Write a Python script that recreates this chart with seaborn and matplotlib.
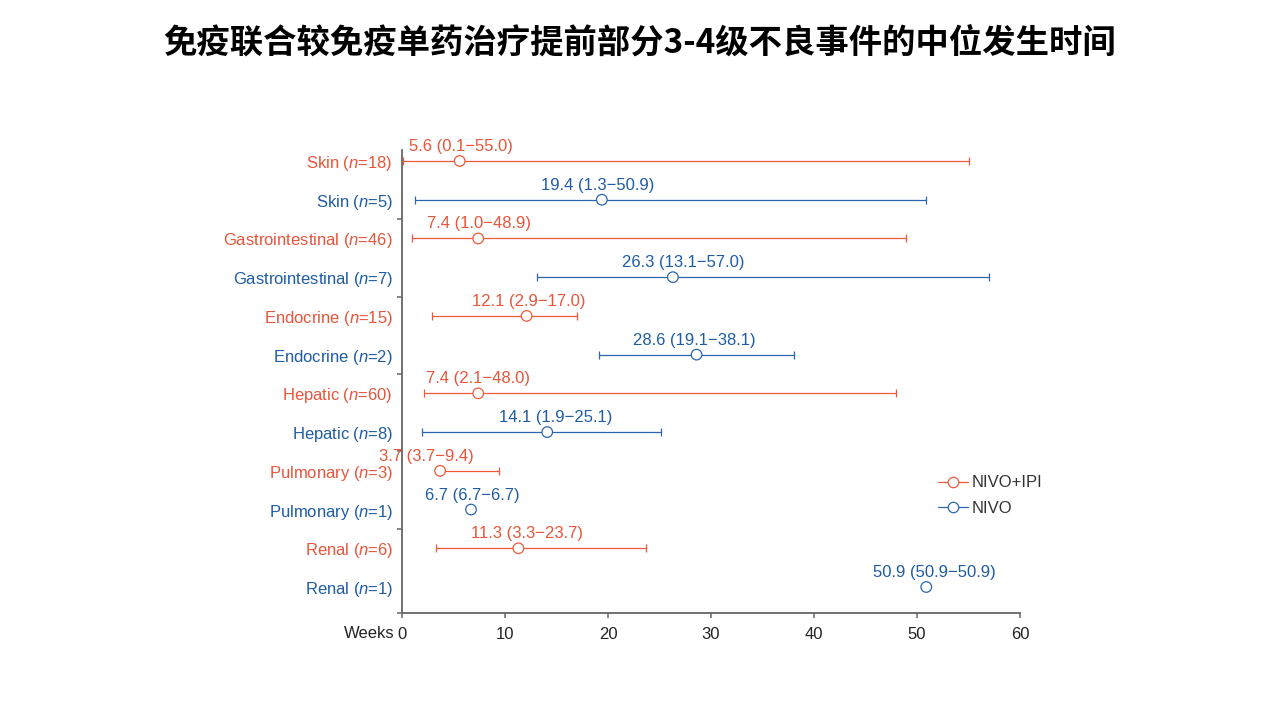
import numpy as np
import pandas as pd
import matplotlib
matplotlib.use('Agg')
import matplotlib.pyplot as plt
from matplotlib.lines import Line2D
import seaborn as sns

# organ groups, NIVO+IPI (combo) and NIVO (mono) rows alternate
organs = ['Skin', 'Gastrointestinal', 'Endocrine', 'Hepatic', 'Pulmonary', 'Renal']

combo_n = [18, 46, 15, 60, 3, 6]
combo_median = [5.6, 7.4, 12.1, 7.4, 3.7, 11.3]
combo_low = [0.1, 1.0, 2.9, 2.1, 3.7, 3.3]
combo_high = [55.0, 48.9, 17.0, 48.0, 9.4, 23.7]

mono_n = [5, 7, 2, 8, 1, 1]
mono_median = [19.4, 26.3, 28.6, 14.1, 6.7, 50.9]
mono_low = [1.3, 13.1, 19.1, 1.9, 6.7, 50.9]
mono_high = [50.9, 57.0, 38.1, 25.1, 6.7, 50.9]

regimens = ['NIVO+IPI', 'NIVO']
x_ticks = [0, 10, 20, 30, 40, 50, 60]

title = '免疫联合较免疫单药治疗提前部分3-4级不良事件的中位发生时间'

# small horizontal nudges (pixels) of the value labels, row order
label_dx = [1, -4, 1, 10, 2, -2, 0, 8, -14, 1, 9, 8]

ORANGE = '#EE5A3A'
BLUE = '#2B67B0'
ORANGE_TXT = '#E8553A'
BLUE_TXT = '#1F5CA4'
FS = 12


def build_frame():
    rows = []
    for i, organ in enumerate(organs):
        rows.append(dict(organ=organ, regimen=regimens[0], n=combo_n[i],
                         median=combo_median[i], low=combo_low[i], high=combo_high[i]))
        rows.append(dict(organ=organ, regimen=regimens[1], n=mono_n[i],
                         median=mono_median[i], low=mono_low[i], high=mono_high[i]))
    df = pd.DataFrame(rows)
    df['pos'] = np.arange(len(df))
    return df


def main():
    sns.set_theme(style='white')
    plt.rcParams['font.family'] = ['Liberation Sans', 'DejaVu Sans']
    plt.rcParams['mathtext.fontset'] = 'custom'
    plt.rcParams['mathtext.it'] = 'Liberation Sans:italic'
    plt.rcParams['mathtext.rm'] = 'Liberation Sans'

    df = build_frame()
    colors = {regimens[0]: ORANGE, regimens[1]: BLUE}
    txt_colors = {regimens[0]: ORANGE_TXT, regimens[1]: BLUE_TXT}

    fig = plt.figure(figsize=(12.8, 7.2), dpi=100)
    ax = fig.add_axes([402 / 1280, 1 - 613 / 720, 618 / 1280, 463 / 720])

    # ranges
    for reg in regimens:
        sub = df[(df['regimen'] == reg) & (df['high'] > df['low'])]
        ax.errorbar(sub['median'], sub['pos'],
                    xerr=[sub['median'] - sub['low'], sub['high'] - sub['median']],
                    fmt='none', ecolor=colors[reg], elinewidth=0.9,
                    capsize=3.2, capthick=0.9, zorder=2)

    # medians
    sns.scatterplot(data=df, x='median', y='pos', hue='regimen', palette=colors,
                    s=58, linewidth=0.9, legend=False, ax=ax, zorder=3)
    pts = ax.collections[-1]
    pts.set_edgecolors(pts.get_facecolors())
    pts.set_facecolors('white')

    # value labels
    for (_, r), dx in zip(df.iterrows(), label_dx):
        ax.annotate(f"{r['median']:.1f} ({r['low']:.1f}\u2212{r['high']:.1f})",
                    xy=(r['median'], r['pos']), xytext=(dx, 10),
                    textcoords='offset pixels', ha='center', va='baseline',
                    fontsize=FS, color=txt_colors[r['regimen']], clip_on=False)

    ybottom = len(df) - 1 + 26 / 38.73
    ax.set_ylim(ybottom, -11 / 38.73)
    ax.set_xlim(0, 60)
    ax.set_xticks(x_ticks)
    ax.set_xticklabels([str(t) for t in x_ticks])

    ax.set_yticks(df['pos'])
    ax.set_yticklabels([f"{o} ($n$={n})" for o, n in zip(df['organ'], df['n'])])
    for lab, reg in zip(ax.get_yticklabels(), df['regimen']):
        lab.set_color(txt_colors[reg])
    bounds = list(np.arange(1.5, len(df) - 1, 2)) + [ybottom]
    ax.set_yticks(bounds, minor=True)

    ax.tick_params(axis='y', which='major', length=0, pad=6.5, labelsize=FS)
    ax.tick_params(axis='y', which='minor', length=3.8, width=1.1,
                   color='#666666', left=True, direction='out')
    ax.tick_params(axis='x', which='major', length=3.8, width=1.1,
                   color='#666666', bottom=True, direction='out', pad=6.5,
                   labelsize=FS, labelcolor='#222222')

    for side in ['top', 'right']:
        ax.spines[side].set_visible(False)
    for side in ['left', 'bottom']:
        ax.spines[side].set_color('#666666')
        ax.spines[side].set_linewidth(1.3)
    ax.set_xlabel('')
    ax.set_ylabel('')

    ax.annotate('Weeks', xy=(0, 0), xycoords=('data', 'axes fraction'),
                xytext=(-7, -21), textcoords='offset pixels',
                ha='right', va='center', fontsize=FS, color='#222222')

    handles = [Line2D([0], [0], color=colors[reg], lw=0.9, marker='o',
                      markersize=7.5, markerfacecolor='white',
                      markeredgecolor=colors[reg], markeredgewidth=0.9)
               for reg in regimens]
    ax.legend(handles, regimens, loc='center left', bbox_to_anchor=(0.843, 0.253),
              frameon=False, fontsize=FS, handlelength=1.8, handletextpad=0.2,
              labelspacing=0.65, labelcolor='#333333')

    fig.text(0.5, 1 - 44 / 720, title, ha='center', va='center',
             fontsize=24, fontweight='heavy', color='black',
             family=['Noto Sans CJK SC', 'DejaVu Sans'])

    fig.savefig('out.png', dpi=100)
    plt.close(fig)


if __name__ == '__main__':
    main()
